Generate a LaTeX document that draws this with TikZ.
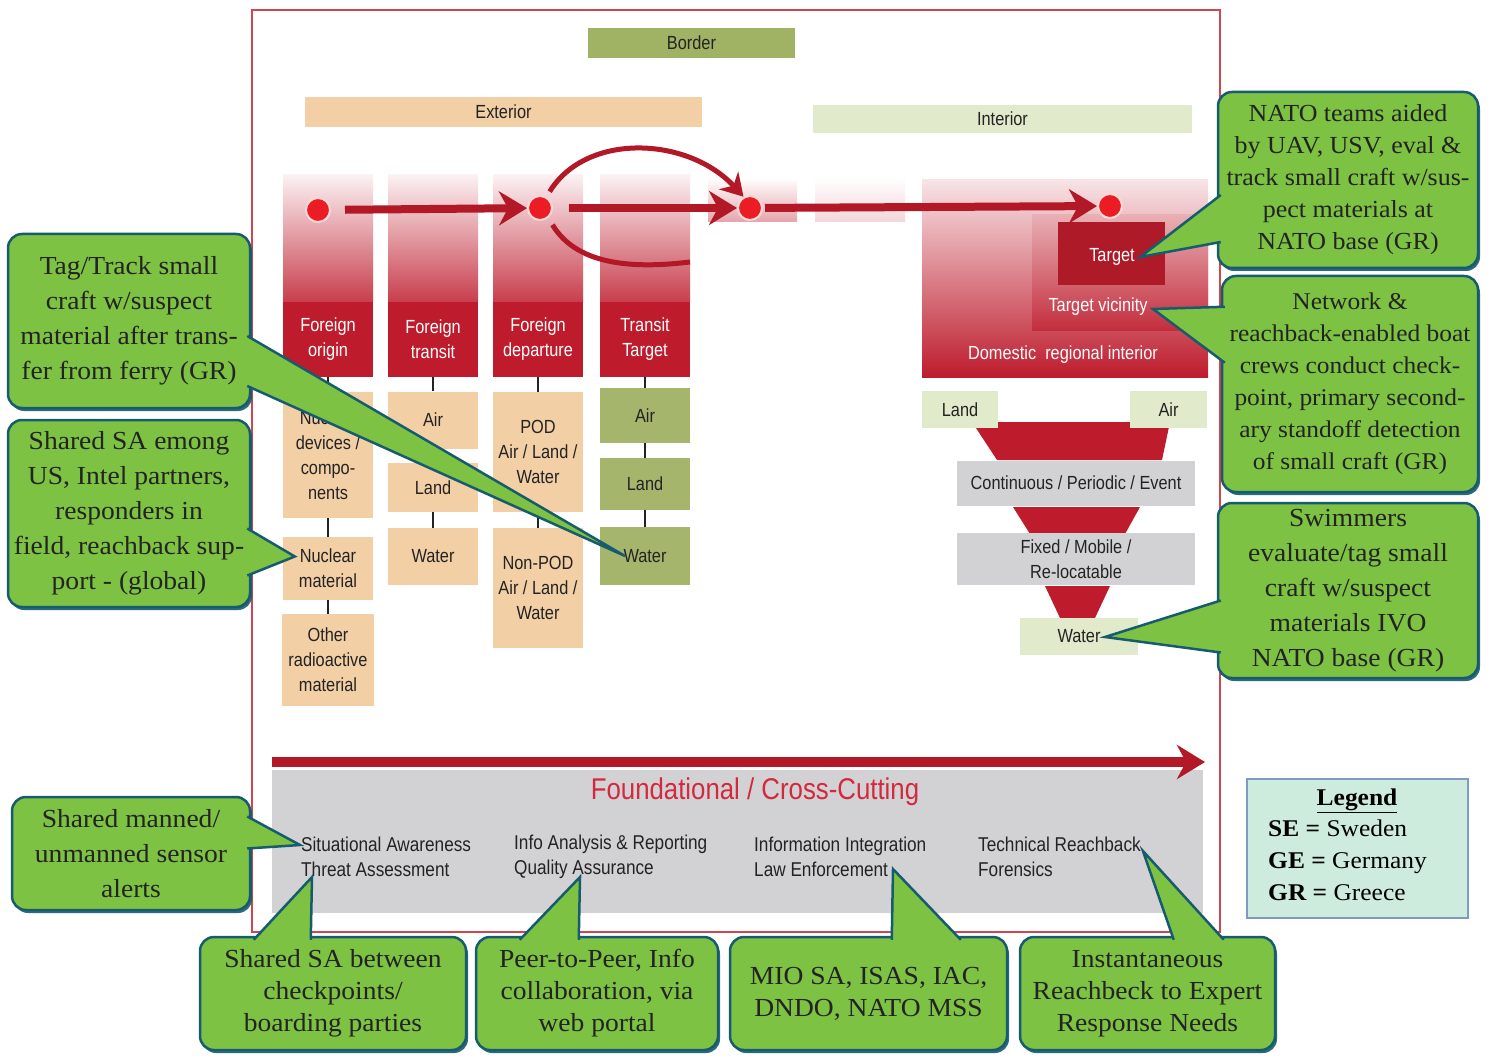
\documentclass[tikz,border=0pt]{standalone}
\usepackage{fontspec}
\setmainfont[FakeStretch=1.06]{Liberation Serif}
\newfontfamily\diagfont[FakeStretch=0.86]{Liberation Sans}
\usetikzlibrary{arrows.meta,calc,shadows}

\definecolor{colred}{RGB}{190,28,45}
\definecolor{arrred}{RGB}{178,24,38}
\definecolor{dotred}{RGB}{236,28,36}
\definecolor{tancol}{RGB}{243,207,166}
\definecolor{olivecol}{RGB}{160,178,100}
\definecolor{ttgreen}{RGB}{165,182,108}
\definecolor{palegreen}{RGB}{226,234,204}
\definecolor{boxgray}{RGB}{210,210,213}
\definecolor{framered}{RGB}{205,70,80}
\definecolor{callgreen}{RGB}{125,194,66}
\definecolor{callline}{RGB}{22,92,110}
\definecolor{legfill}{RGB}{206,236,221}
\definecolor{legline}{RGB}{125,155,195}
\definecolor{foundred}{RGB}{212,40,62}
\definecolor{inkgray}{RGB}{35,35,35}

\tikzset{
  band/.style={inner sep=0pt, text=inkgray, font=\diagfont\fontsize{19}{23}\selectfont},
  colhead/.style={fill=colred, minimum width=90pt, minimum height=75pt, inner sep=0pt, align=center, text=white, font=\diagfont\fontsize{19}{25}\selectfont},
  tanbox/.style={fill=tancol, minimum width=90pt, inner sep=1pt, align=center, text=inkgray, font=\diagfont\fontsize{19}{25}\selectfont},
  ttbox/.style={tanbox, fill=ttgreen},
  funbox/.style={tanbox, fill=boxgray, minimum width=238pt},
  reddot/.style={circle, fill=dotred, draw=red!15, line width=2pt, minimum size=24pt, inner sep=0pt},
  bigarrow/.style={draw=arrred, line width=8pt, -{Stealth[length=28pt, width=34pt, inset=9pt]}},
  curvearrow/.style={draw=arrred, line width=5pt, -{Stealth[length=22pt, width=26pt, inset=7pt]}},
  link/.style={draw=inkgray, line width=2pt},
  inner label/.style={text=white, font=\diagfont\fontsize{19}{23}\selectfont},
  item/.style={anchor=west, align=left, inner sep=0pt, text=inkgray, font=\diagfont\fontsize{20}{25}\selectfont},
  callout/.style={fill=callgreen, draw=callline, line width=2.5pt, rounded corners=14pt, align=center, inner sep=2pt,
    font=\fontsize{26}{35}\selectfont, text=inkgray,
    drop shadow={shadow xshift=2pt, shadow yshift=-3pt, fill=callline, opacity=0.9}},
  ptr/.style={draw=callline, line width=2.5pt, line join=miter},
}
\newcommand\pointer[3]{\fill[callgreen] #1 -- #2 -- #3 -- cycle; \draw[ptr] #1 -- #2 -- #3;}

\begin{document}
\begin{tikzpicture}[x=1pt,y=-1pt]
\fill[white] (0,0) rectangle (1495,1056);
\useasboundingbox (0,0) rectangle (1495,1056);

\draw[framered, line width=2pt] (252,10) rectangle (1220,932);

\node[band, fill=olivecol, minimum width=207pt, minimum height=30pt] (border) at (691.5,43) {Border};
\node[band, fill=tancol, minimum width=397pt, minimum height=30pt] (exterior) at (503.5,112) {Exterior};
\node[band, fill=palegreen, minimum width=379pt, minimum height=28pt] (interior) at (1002.5,119) {Interior};

% pathway columns
\foreach \x in {283,388,493,600}
  \shade[top color=colred!6, bottom color=colred!85] (\x,175) rectangle +(90,127);
\shade[top color=white, bottom color=colred!40] (708,178) rectangle (797,222);
\shade[top color=white, bottom color=colred!18] (815,178) rectangle (905,222);
\node[colhead] (origin) at (328,339.5) {Foreign\\origin};
\node[colhead] (transit) at (433,339.5) {Foreign\\transit};
\node[colhead] (departure) at (538,339.5) {Foreign\\departure};
\node[colhead] (transtarget) at (645,339.5) {Transit\\Target};

% interior block
\shade[top color=colred!12, bottom color=colred] (922,180) rectangle (1208,377);
\shade[top color=colred!35, bottom color=colred!92] (1032,215) rectangle (1208,330);
\fill[colred!92!black] (1058,222) rectangle (1165,285);
\node[inner label] (domestic) at (1063,355) {Domestic\ \ regional interior};
\node[inner label] (vicinity) at (1098,307) {Target vicinity};
\node[inner label] (target) at (1112,257) {Target};

% flow
\node[reddot] (d1) at (318,210) {};
\node[reddot] (d2) at (540,208) {};
\node[reddot] (d3) at (750,208) {};
\node[reddot] (d4) at (1110,206) {};
\draw[bigarrow, shorten <=14pt] (d1) -- (d2);
\draw[bigarrow, shorten <=16pt] (d2) -- (d3);
\draw[bigarrow, shorten <=2pt] (d3) -- (d4);
\draw[curvearrow, shorten <=6pt] (d2.60) .. controls +(40,-65) and +(-55,-60) .. (d3.120);
\coordinate (arcend) at (690,262);
\draw[draw=arrred, line width=5pt, shorten <=8pt] (d2.-50) .. controls +(30,50) and +(-50,6) .. (arcend);

% column entries
\node[tanbox, minimum height=126pt] (nucdev) at (328,455) {Nuclear\\devices /\\compo-\\nents};
\node[tanbox, minimum height=63pt] (nucmat) at (328,568.5) {Nuclear\\material};
\node[tanbox, minimum height=92pt, minimum width=92pt] (otherrad) at (328,660) {Other\\radioactive\\material};
\node[tanbox, minimum height=57pt] (tair) at (433,420) {Air};
\node[tanbox, minimum height=49pt] (tland) at (433,487.5) {Land};
\node[tanbox, minimum height=57pt] (twater) at (433,556.5) {Water};
\node[tanbox, minimum height=120pt] (pod) at (538,452) {POD\\Air / Land /\\Water};
\node[tanbox, minimum height=120pt] (nonpod) at (538,588) {Non-POD\\Air / Land /\\Water};
\node[ttbox, minimum height=55pt] (ttair) at (645,415.5) {Air};
\node[ttbox, minimum height=52pt] (ttland) at (645,484) {Land};
\node[ttbox, minimum height=58pt] (ttwater) at (645,556) {Water};
\draw[link] (origin) -- (nucdev);
\draw[link] (nucdev) -- (nucmat);
\draw[link] (nucmat) -- (otherrad);
\draw[link] (transit) -- (tair);
\draw[link] (tair) -- (tland);
\draw[link] (tland) -- (twater);
\draw[link] (departure) -- (pod);
\draw[link] (pod) -- (nonpod);
\draw[link] (transtarget) -- (ttair);
\draw[link] (ttair) -- (ttland);
\draw[link] (ttland) -- (ttwater);

% funnel
\fill[colred] (972,422) -- (1170,422) -- (1162,460) -- (997,460) -- cycle;
\fill[colred] (1013,507) -- (1140,507) -- (1125,534) -- (1030,534) -- cycle;
\fill[colred] (1045,586) -- (1110,586) -- (1095,618) -- (1060,618) -- cycle;
\node[tanbox, fill=palegreen, minimum width=76pt, minimum height=37pt] (fland) at (960,409.5) {Land};
\node[tanbox, fill=palegreen, minimum width=77pt, minimum height=37pt] (fair) at (1168.5,409.5) {Air};
\node[funbox, minimum height=45pt] (fcont) at (1076,483) {Continuous / Periodic / Event};
\node[funbox, minimum height=52pt] (ffixed) at (1076,559) {Fixed / Mobile /\\Re-locatable};
\node[tanbox, fill=palegreen, minimum width=118pt, minimum height=37pt] (fwater) at (1079,636) {Water};

% foundational
\node[fill=boxgray, minimum width=931pt, minimum height=143pt, inner sep=0pt] (found) at (737.5,841.5) {};
\coordinate (fstart) at (272,762);
\coordinate (fend) at (1205,762);
\draw[bigarrow, line width=10pt] (fstart) -- (fend);
\node[text=foundred, font=\diagfont\fontsize{30}{34}\selectfont] (foundtitle) at (755,792) {Foundational / Cross-Cutting};
\node[item] (sa) at (301,857) {Situational Awareness\\Threat Assessment};
\node[item] (iar) at (514,857) {Info Analysis \& Reporting\\Quality Assurance};
\node[item] (iie) at (754,857) {Information Integration\\Law Enforcement};
\node[item] (trf) at (978,857) {Technical Reachback\\Forensics};

% legend
\node[fill=legfill, draw=legline, line width=1.5pt, minimum width=221pt, minimum height=139pt] (legend) at (1357.5,848.5) {};
\node[font=\fontsize{24}{30}\selectfont, inner sep=0pt] (legtitle) at (1357,801) {\underline{\textbf{Legend}}};
\node[anchor=north west, align=left, inner sep=0pt, font=\fontsize{24}{32}\selectfont] (legbody) at (1268,820)
  {\textbf{SE =} Sweden\\\textbf{GE =} Germany\\\textbf{GR =} Greece};

% callouts
\node[callout, minimum width=242pt, minimum height=174pt] (c1) at (129,321)
  {Tag/Track small\\craft w/suspect\\material after trans-\\fer from ferry (GR)};
\pointer{($(c1.east)+(-4,15)$)}{($(ttwater.center)+(-20,0)$)}{($(c1.east)+(-4,65)$)}
\node[callout, minimum width=242pt, minimum height=187pt] (c2) at (129,513.5)
  {Shared SA emong\\US, Intel partners,\\responders in\\field, reachback sup-\\port - (global)};
\pointer{($(c2.east)+(-4,15)$)}{($(nucmat.west)+(12,-12)$)}{($(c2.east)+(-4,62)$)}
\node[callout, minimum width=238pt, minimum height=113pt] (c3) at (131,853.5)
  {Shared manned/\\unmanned sensor\\alerts};
\pointer{($(c3.east)+(-4,-37)$)}{($(sa.west)+(-1,-12)$)}{($(c3.east)+(-4,-5)$)}
\node[callout, minimum width=266pt, minimum height=113pt, font=\fontsize{26}{32}\selectfont] (c4) at (333,993.5)
  {Shared SA between\\checkpoints/\\boarding parties};
\pointer{($(c4.north west)+(55,4)$)}{($(sa.south west)+(11,0)$)}{($(c4.north west)+(112,4)$)}
\node[callout, minimum width=242pt, minimum height=113pt, font=\fontsize{26}{32}\selectfont] (c5) at (597,993.5)
  {Peer-to-Peer, Info\\collaboration, via\\web portal};
\pointer{($(c5.north west)+(45,4)$)}{($(iar.south west)+(66,-2)$)}{($(c5.north west)+(104,4)$)}
\node[callout, minimum width=277pt, minimum height=113pt, font=\fontsize{26}{32}\selectfont] (c6) at (868.5,993.5)
  {MIO SA, ISAS, IAC,\\DNDO, NATO MSS};
\pointer{($(c6.north west)+(163,4)$)}{($(iie.south west)+(139,-8)$)}{($(c6.north west)+(232,4)$)}
\node[callout, minimum width=255pt, minimum height=113pt, font=\fontsize{26}{32}\selectfont] (c7) at (1147.5,993.5)
  {Instantaneous\\Reachbeck to Expert\\Response Needs};
\pointer{($(c7.north west)+(155,4)$)}{($(trf.east)+(2,-6)$)}{($(c7.north west)+(205,4)$)}
\node[callout, minimum width=260pt, minimum height=176pt, font=\fontsize{24.5}{32}\selectfont] (r1) at (1348,180)
  {NATO teams aided\\by UAV, USV, eval \&\\track small craft w/sus-\\pect materials at\\NATO base (GR)};
\pointer{($(r1.west)+(4,15)$)}{($(target.east)+(2,0)$)}{($(r1.west)+(4,62)$)}
\node[callout, minimum width=256pt, minimum height=216pt, font=\fontsize{24}{32}\selectfont] (r2) at (1350,384)
  {Network \&\\reachback-enabled boat\\crews conduct check-\\point, primary second-\\ary standoff detection\\of small craft (GR)};
\pointer{($(r2.north west)+(4,32)$)}{($(vicinity.east)+(2,2)$)}{($(r2.north west)+(4,88)$)}
\node[callout, minimum width=260pt, minimum height=175pt] (r3) at (1348,590.5)
  {Swimmers\\evaluate/tag small\\craft w/suspect\\materials IVO\\NATO base (GR)};
\pointer{($(r3.west)+(4,10)$)}{($(fwater.center)+(26,1)$)}{($(r3.west)+(4,62)$)}
\end{tikzpicture}
\end{document}
